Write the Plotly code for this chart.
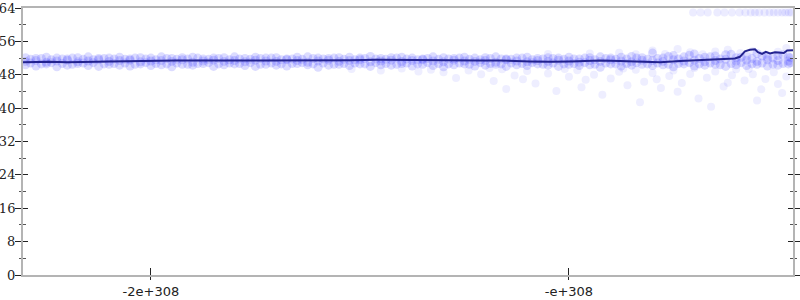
import plotly.graph_objects as go

# ---------------- data (x in units of 1e308) ----------------
band_x = [-2.300, -2.275, -2.250, -2.225, -2.200, -2.175, -2.150, -2.125, -2.100, -2.075,
          -2.050, -2.025, -2.000, -1.975, -1.950, -1.925, -1.900, -1.875, -1.850, -1.825,
          -1.800, -1.775, -1.750, -1.725, -1.700, -1.675, -1.650, -1.625, -1.600, -1.575,
          -1.550, -1.525, -1.500, -1.475, -1.450, -1.425, -1.400, -1.375, -1.350, -1.325,
          -1.300, -1.275, -1.250, -1.225, -1.200, -1.175, -1.150, -1.125, -1.100, -1.075,
          -1.050, -1.025, -1.000, -0.975, -0.950, -0.925, -0.900, -0.875, -0.850, -0.825,
          -0.800, -0.775, -0.750, -0.725, -0.700, -0.675, -0.650, -0.625, -0.600, -0.575,
          -0.550, -0.525, -0.500, -0.475]
band_x2 = [-2.288, -2.262, -2.238, -2.212, -2.188, -2.162, -2.138, -2.112, -2.088, -2.062,
           -2.038, -2.012, -1.988, -1.962, -1.938, -1.912, -1.888, -1.862, -1.838, -1.812,
           -1.788, -1.762, -1.738, -1.712, -1.688, -1.662, -1.638, -1.612, -1.588, -1.562,
           -1.538, -1.512, -1.488, -1.462, -1.438, -1.412, -1.388, -1.362, -1.338, -1.312,
           -1.288, -1.262, -1.238, -1.212, -1.188, -1.162, -1.138, -1.112, -1.088, -1.062,
           -1.038, -1.012, -0.988, -0.962, -0.938, -0.912, -0.888, -0.862, -0.838, -0.812,
           -0.788, -0.762, -0.738, -0.712, -0.688, -0.662, -0.638, -0.612, -0.588, -0.562,
           -0.538, -0.512, -0.488, -0.470]
band_upper = [52.1, 51.9, 52.2, 52.0, 51.8, 52.1, 52.3, 51.9, 52.0, 52.2,
              51.8, 52.1, 52.0, 52.3, 51.9, 52.1, 52.2, 51.8, 52.0, 52.1,
              52.3, 51.9, 52.2, 52.0, 52.1, 51.8, 52.2, 52.3, 52.0, 51.9,
              52.1, 52.2, 52.0, 52.4, 51.9, 52.1, 52.2, 52.0, 51.8, 52.3,
              52.1, 51.9, 52.2, 52.0, 52.1, 52.3, 51.8, 52.0, 52.2, 51.9,
              52.1, 52.0, 52.2, 51.8, 52.1, 52.3, 52.0, 52.2, 52.4, 52.1,
              53.2, 52.0, 52.6, 52.3, 53.0, 52.2, 52.5, 52.8, 52.1, 52.4,
              53.1, 52.2, 52.6, 52.3]
band_mid = [51.2, 51.4, 51.0, 51.3, 51.5, 51.1, 51.3, 51.6, 51.2, 51.4,
            51.5, 51.1, 51.3, 51.4, 51.2, 51.6, 51.0, 51.3, 51.5, 51.2,
            51.4, 51.1, 51.5, 51.3, 51.2, 51.6, 51.4, 51.0, 51.3, 51.5,
            51.2, 51.4, 51.6, 51.1, 51.3, 51.5, 51.2, 51.4, 51.6, 51.3,
            51.1, 51.5, 51.3, 51.2, 51.4, 51.0, 51.6, 51.3, 51.1, 51.4,
            51.2, 51.5, 51.3, 51.0, 51.4, 51.2, 51.6, 51.3, 51.1, 51.5,
            51.4, 51.2, 51.6, 51.3, 51.5, 51.1, 51.4, 51.7, 51.3, 51.5,
            51.2, 51.6, 51.4, 51.3]
band_lower = [50.4, 50.1, 50.6, 49.9, 50.3, 50.7, 50.2, 50.0, 50.5, 50.3,
              50.1, 50.6, 50.2, 50.4, 49.9, 50.5, 50.3, 50.7, 50.0, 50.4,
              50.6, 50.2, 50.0, 50.5, 50.3, 50.1, 50.7, 50.4, 49.8, 50.3,
              50.5, 50.2, 50.6, 50.0, 50.4, 50.3, 50.7, 50.1, 50.5, 50.2,
              49.9, 50.4, 50.6, 50.1, 50.3, 50.5, 50.0, 50.4, 50.2, 50.6,
              50.3, 50.0, 50.5, 50.2, 50.4, 49.8, 50.6, 50.1, 50.3, 50.5,
              50.2, 50.4, 49.9, 50.6, 50.1, 50.3, 50.5, 50.0, 50.4, 50.2,
              50.5, 50.1, 50.3, 50.6]
band_upper2 = [51.7, 51.9, 51.6, 51.8, 52.0, 51.7, 51.6, 51.9, 51.8, 51.7,
               52.0, 51.8, 51.6, 51.9, 51.7, 51.8, 52.0, 51.7, 51.9, 51.6,
               51.8, 51.7, 51.9, 52.0, 51.6, 51.8, 51.7, 51.9, 51.8, 52.0,
               51.7, 51.6, 51.9, 51.8, 51.7, 52.0, 51.8, 51.6, 51.9, 51.7,
               51.8, 52.0, 51.7, 51.6, 51.9, 51.8, 51.7, 52.0, 51.6, 51.8,
               51.9, 51.7, 51.8, 52.0, 51.6, 51.9, 51.7, 51.8, 52.0, 51.7,
               51.9, 52.4, 51.8, 52.7, 51.9, 52.3, 51.8, 52.9, 52.2, 51.9,
               52.5, 52.0, 52.8, 52.1]
band_lower2 = [50.8, 50.6, 50.9, 50.7, 50.5, 50.8, 50.9, 50.6, 50.7, 50.8,
               50.5, 50.9, 50.7, 50.6, 50.8, 50.5, 50.7, 50.9, 50.6, 50.8,
               50.7, 50.9, 50.5, 50.8, 50.6, 50.7, 50.9, 50.6, 50.8, 50.5,
               50.7, 50.8, 50.6, 50.9, 50.7, 50.5, 50.8, 50.6, 50.9, 50.7,
               50.6, 50.8, 50.5, 50.9, 50.7, 50.6, 50.8, 50.7, 50.9, 50.5,
               50.8, 50.6, 50.7, 50.9, 50.5, 50.8, 50.6, 50.7, 50.9, 50.6,
               50.8, 50.5, 50.7, 50.9, 50.6, 50.8, 50.4, 50.7, 50.9, 50.6,
               50.8, 50.5, 50.7, 50.9]

sparse_x = [-1.52, -1.45, -1.40, -1.36, -1.33,
            -1.30, -1.27, -1.24, -1.21, -1.18, -1.16, -1.13, -1.10, -1.08, -1.05,
            -1.03, -1.00, -0.98, -0.96, -0.94, -0.92, -0.90, -0.88, -0.86, -0.84,
            -0.82, -0.80, -0.78, -0.76, -0.75, -0.73, -0.71, -0.69, -0.67, -0.65,
            -0.63, -0.61, -0.60, -0.58, -0.56, -0.54, -0.53, -0.51, -0.50, -0.48,
            -1.19, -1.11, -1.01, -0.97, -0.87, -0.79, -0.70, -0.62, -0.57, -0.49,
            -0.83, -0.66, -0.55, -0.74, -1.15,
            -0.88, -0.84, -0.80, -0.77, -0.74, -0.71, -0.68, -0.65, -0.62, -0.59,
            -0.56, -0.53, -0.50, -0.48, -1.05, -0.95]
sparse_y = [49.4, 49.0, 49.5, 48.8, 49.2,
            48.6, 47.2, 49.0, 48.1, 46.5, 49.3, 47.8, 48.9, 45.9, 48.3,
            44.1, 47.5, 49.1, 46.8, 48.0, 43.2, 47.1, 48.7, 45.5, 49.2,
            46.3, 48.4, 44.8, 47.7, 49.0, 46.0, 48.2, 42.3, 47.3, 48.8,
            45.2, 47.9, 49.3, 46.6, 48.1, 44.5, 47.0, 48.6, 45.8, 47.6,
            49.6, 46.9, 49.4, 45.0, 49.5, 46.9, 49.6, 46.1, 49.4, 43.6,
            41.4, 40.3, 41.8, 43.9, 44.6,
            53.3, 52.9, 53.8, 53.0, 54.2, 53.4, 52.9, 53.6, 54.0, 53.2,
            53.7, 52.8, 53.5, 54.4, 53.0, 53.1]

top_x = [-0.703, -0.685, -0.668, -0.645, -0.628, -0.610, -0.592, -0.578,
         -0.565, -0.555, -0.545, -0.532, -0.520, -0.510, -0.500, -0.490,
         -0.482, -0.474, -0.468]
top_y = [62.9, 62.9, 62.9, 62.9, 62.9, 62.9, 62.9, 62.9,
         62.9, 62.9, 62.9, 62.9, 62.9, 62.9, 62.9, 62.9,
         62.9, 62.9, 62.9]

line_x = [-2.306, -2.270, -2.242, -2.200, -2.170, -2.130, -2.098, -2.050, -2.002, -1.940,
          -1.883, -1.820, -1.763, -1.700, -1.644, -1.580, -1.524, -1.460, -1.404, -1.340,
          -1.285, -1.213, -1.165, -1.093, -1.045, -0.998, -0.960, -0.926, -0.878, -0.830,
          -0.782, -0.734, -0.687, -0.639, -0.603, -0.591, -0.579, -0.567, -0.555, -0.548,
          -0.538, -0.529, -0.519, -0.507, -0.495, -0.486, -0.478, -0.464]
line_y = [51.0, 51.1, 51.1, 51.0, 51.0, 51.1, 51.2, 51.3, 51.3, 51.4,
          51.4, 51.4, 51.5, 51.4, 51.5, 51.5, 51.5, 51.6, 51.6, 51.5,
          51.5, 51.4, 51.4, 51.2, 51.1, 51.2, 51.3, 51.4, 51.3, 51.1,
          51.0, 51.3, 51.5, 51.7, 51.9, 52.3, 53.6, 54.0, 54.1, 53.4,
          53.0, 53.5, 53.1, 53.4, 53.2, 53.2, 53.8, 53.9]

x_tick_vals = [-2, -1]
x_tick_text = ["-2e+308", "-e+308"]
x_range = [-2.306, -0.464]
y_range = [0, 64]

# ---------------- figure ----------------
PT_COLOR = "rgba(40,40,255,0.16)"
fig = go.Figure()
for xs, ys in ((band_x, band_upper), (band_x2, band_upper2), (band_x, band_mid),
               (band_x2, band_lower2), (band_x, band_lower)):
    fig.add_trace(go.Scatter(x=xs, y=ys, mode="markers",
                             marker=dict(size=9, color=PT_COLOR, line=dict(width=0)),
                             hoverinfo="skip", showlegend=False))
fig.add_trace(go.Scatter(x=sparse_x, y=sparse_y, mode="markers",
                         marker=dict(size=8, color="rgba(40,40,255,0.08)", line=dict(width=0)),
                         hoverinfo="skip", showlegend=False))
fig.add_trace(go.Scatter(x=top_x, y=top_y, mode="markers",
                         marker=dict(size=8, color="rgba(40,40,255,0.09)", line=dict(width=0)),
                         hoverinfo="skip", showlegend=False))
fig.add_trace(go.Scatter(x=line_x, y=line_y, mode="lines",
                         line=dict(color="#23238f", width=2),
                         hoverinfo="skip", showlegend=False))
# dummy trace for the overlay (inside ticks) axes
fig.add_trace(go.Scatter(x=[x_range[0]], y=[y_range[0]], xaxis="x2", yaxis="y2",
                         mode="markers", marker=dict(opacity=0), hoverinfo="skip",
                         showlegend=False))

AX_LINE = "#b4b4b4"
TICK_COL = "#222222"
fig.update_layout(
    width=800, height=300,
    margin=dict(l=23, r=7, t=8, b=25, autoexpand=False),
    paper_bgcolor="white", plot_bgcolor="white",
    xaxis=dict(range=x_range, tickvals=x_tick_vals, ticktext=x_tick_text,
               ticks="outside", ticklen=3, tickcolor=TICK_COL, tickwidth=1,
               showline=True, linecolor=AX_LINE, linewidth=2, mirror=True,
               showgrid=False, zeroline=False, automargin=False,
               tickfont=dict(family="DejaVu Sans", size=13, color="#222")),
    yaxis=dict(range=y_range, dtick=8, tick0=0,
               ticks="outside", ticklen=6, tickcolor=TICK_COL, tickwidth=1,
               minor=dict(dtick=4, ticks="outside", ticklen=2, tickcolor="#555"),
               showline=True, linecolor=AX_LINE, linewidth=2, mirror="allticks",
               showgrid=False, zeroline=False, automargin=False,
               ticklabelstandoff=-3,
               tickfont=dict(family="DejaVu Serif", size=13, color="#222")),
    xaxis2=dict(range=x_range, overlaying="x", anchor="y2", tickvals=x_tick_vals,
                ticks="inside", ticklen=7, tickcolor=TICK_COL, tickwidth=1,
                showticklabels=False, showline=False, showgrid=False, zeroline=False,
                automargin=False),
    yaxis2=dict(range=y_range, overlaying="y", anchor="x2", dtick=8, tick0=0,
                ticks="inside", ticklen=5, tickcolor=TICK_COL, tickwidth=1,
                minor=dict(dtick=4, ticks="inside", ticklen=3, tickcolor="#555"),
                mirror="allticks", showticklabels=False, showline=False,
                showgrid=False, zeroline=False, automargin=False),
)
fig.write_html("out.html")
